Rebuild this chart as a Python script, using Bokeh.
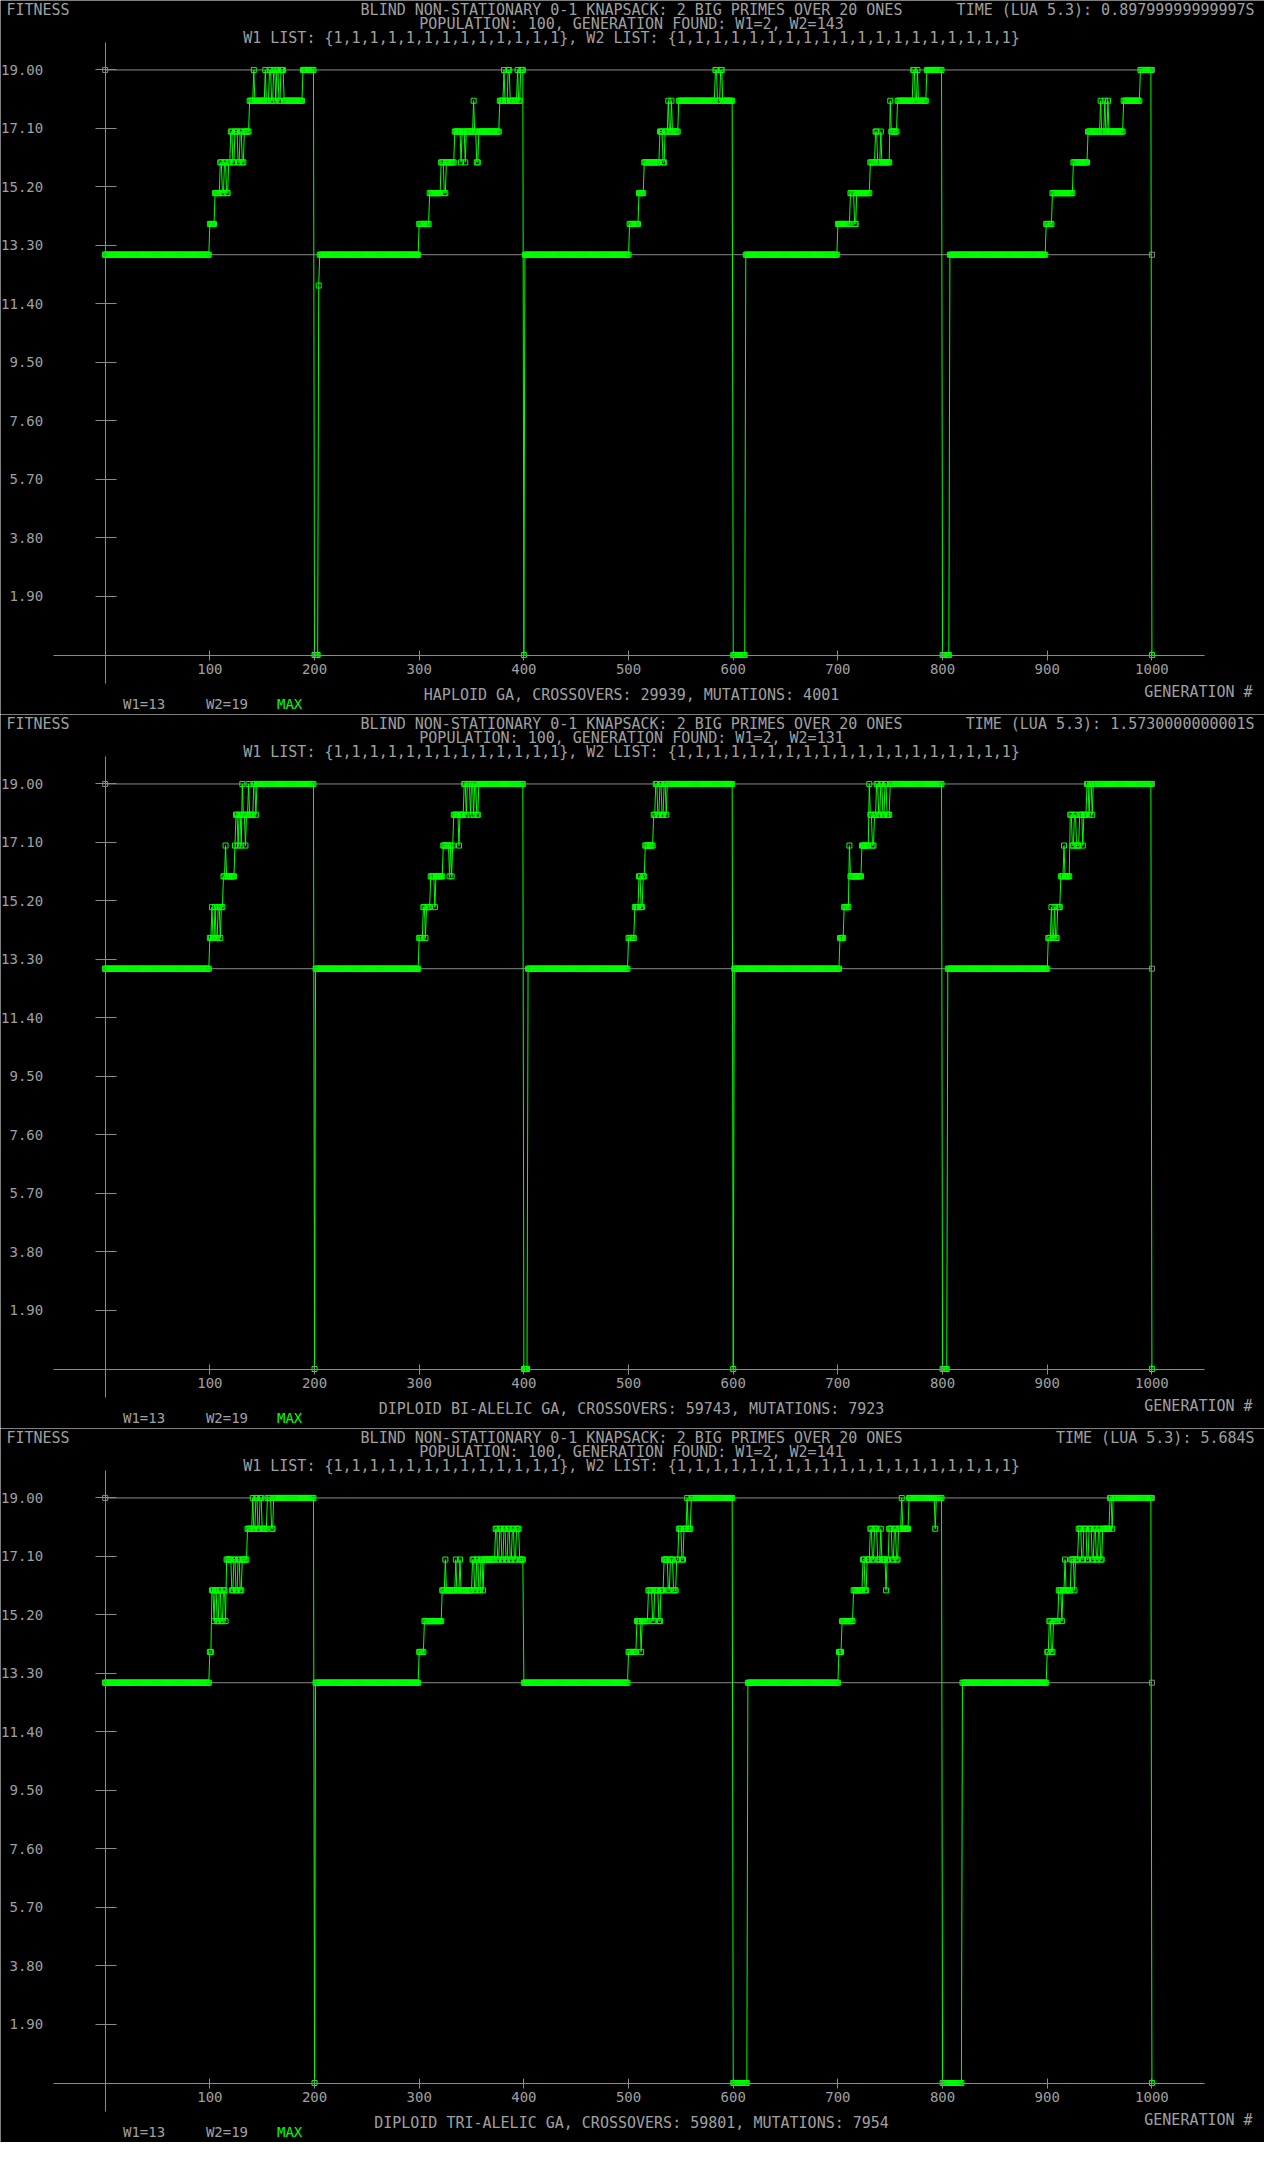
import numpy as np
from bokeh.plotting import figure
from bokeh.models import Range1d, FixedTicker, Label
from bokeh.layouts import column
from bokeh.embed import file_html
from bokeh.resources import INLINE

# ---------------- data ----------------
LAST_GEN = 1000
W1 = 13
W2 = 19
Y_TICKS = [1.9, 3.8, 5.7, 7.6, 9.5, 11.4, 13.3, 15.2, 17.1, 19.0]
Y_TICK_LABELS = ["1.90", "3.80", "5.70", "7.60", "9.50", "11.40", "13.30", "15.20", "17.10", "19.00"]
X_TICKS = [100, 200, 300, 400, 500, 600, 700, 800, 900, 1000]
X_TICK_LABELS = ["100", "200", "300", "400", "500", "600", "700", "800", "900", "1000"]

# MAX fitness, as change points (generation where value starts, value)
P1_GEN = [0, 100, 105, 110, 112, 114, 116, 118, 120, 122, 124, 127, 129, 131, 133, 138, 142, 143, 153, 154,
          157, 159, 161, 163, 164, 166, 168, 171, 189, 200, 204, 205,
          300, 310, 321, 324, 326, 334, 340, 341, 344, 345, 352, 353, 355, 357, 377, 381, 382, 385, 387, 394,
          395, 397, 400, 401,
          501, 510, 515, 530, 533, 535, 538, 539, 541, 542, 548, 583, 585, 588, 590, 600, 612,
          700, 712, 716, 718, 731, 736, 738, 741, 742, 750, 751, 757, 772, 774, 776, 777, 785, 800, 807,
          899, 905, 925, 939, 951, 952, 955, 956, 958, 959, 973, 989, 1000]
P1_VAL = [13, 14, 15, 16, 15, 16, 15, 16, 17, 16, 17, 16, 17, 16, 17, 18, 19, 18, 19, 18,
          19, 18, 19, 18, 19, 18, 19, 18, 19, 0, 12, 13,
          14, 15, 16, 15, 16, 17, 16, 17, 16, 17, 18, 17, 16, 17, 18, 19, 18, 19, 18, 19,
          18, 19, 0, 13,
          14, 15, 16, 17, 16, 17, 18, 17, 18, 17, 18, 19, 18, 19, 18, 0, 13,
          14, 15, 14, 15, 16, 17, 16, 17, 16, 18, 17, 18, 19, 18, 19, 18, 19, 0, 13,
          14, 15, 16, 17, 18, 17, 18, 17, 18, 17, 18, 19, 0]

P2_GEN = [0, 100, 102, 103, 105, 106, 108, 110, 111, 113, 115, 116, 124, 125, 127, 128, 130, 131, 132, 134,
          135, 137, 138, 142, 144, 145, 200, 201,
          300, 304, 306, 307, 311, 315, 316, 323, 329, 330, 331, 332, 333, 338, 339, 343, 345, 346, 349, 350,
          352, 353, 355, 357, 400, 404,
          500, 506, 510, 512, 514, 516, 524, 526, 528, 530, 532, 534, 536, 537, 600, 601,
          702, 706, 711, 712, 723, 730, 731, 733, 735, 737, 739, 741, 743, 745, 747, 750, 800, 805,
          901, 904, 905, 907, 908, 910, 913, 916, 917, 922, 924, 926, 928, 931, 934, 935, 938, 940, 941, 943,
          944, 1000]
P2_VAL = [13, 14, 15, 14, 15, 14, 15, 14, 15, 16, 17, 16, 17, 18, 17, 18, 17, 19, 18, 17,
          18, 19, 18, 19, 18, 19, 0, 13,
          14, 15, 14, 15, 16, 15, 16, 17, 16, 17, 16, 17, 18, 17, 18, 19, 18, 19, 18, 19,
          18, 19, 18, 19, 0, 13,
          14, 15, 16, 15, 16, 17, 18, 19, 18, 19, 18, 19, 18, 19, 0, 13,
          14, 15, 17, 16, 17, 19, 18, 17, 18, 19, 18, 19, 18, 19, 18, 19, 0, 13,
          14, 15, 14, 15, 14, 15, 16, 17, 16, 18, 17, 18, 17, 18, 17, 18, 19, 18, 19, 18,
          19, 0]

P3_GEN = [0, 100, 102, 104, 105, 107, 109, 111, 113, 115, 116, 121, 123, 125, 127, 129, 131, 136, 141, 142,
          144, 146, 148, 150, 155, 159, 161, 200, 201,
          300, 305, 322, 325, 326, 335, 336, 339, 340, 351, 353, 355, 357, 359, 361, 362, 373, 375, 377, 379,
          381, 383, 385, 387, 389, 391, 393, 396, 400,
          500, 508, 512, 513, 519, 523, 525, 529, 531, 534, 538, 540, 543, 546, 548, 551, 553, 556, 557, 560,
          600, 614,
          701, 704, 715, 724, 726, 728, 731, 733, 735, 738, 741, 742, 746, 747, 749, 752, 754, 756, 758, 761,
          762, 768, 793, 794, 800, 819,
          900, 902, 904, 906, 911, 914, 915, 917, 918, 923, 926, 927, 930, 933, 935, 938, 940, 943, 945, 947,
          949, 951, 953, 960, 962, 963, 1000]
P3_VAL = [13, 14, 16, 15, 16, 15, 16, 15, 16, 15, 17, 16, 17, 16, 17, 16, 17, 18, 19, 18,
          19, 18, 19, 18, 19, 18, 19, 0, 13,
          14, 15, 16, 17, 16, 17, 16, 17, 16, 17, 16, 17, 16, 17, 16, 17, 18, 17, 18, 17,
          18, 17, 18, 17, 18, 17, 18, 17, 13,
          14, 15, 14, 15, 16, 15, 16, 15, 16, 17, 16, 17, 16, 17, 18, 17, 18, 19, 18, 19,
          0, 13,
          14, 15, 16, 17, 16, 17, 18, 17, 18, 17, 18, 17, 16, 17, 18, 17, 18, 17, 18, 19,
          18, 19, 18, 19, 0, 13,
          14, 15, 14, 15, 16, 15, 16, 17, 16, 17, 16, 17, 18, 17, 18, 17, 18, 17, 18, 17,
          18, 17, 18, 19, 18, 19, 0]

TITLE = "BLIND NON-STATIONARY 0-1 KNAPSACK: 2 BIG PRIMES OVER 20 ONES"
LIST_TEXT = "W1 LIST: {1,1,1,1,1,1,1,1,1,1,1,1,1}, W2 LIST: {1,1,1,1,1,1,1,1,1,1,1,1,1,1,1,1,1,1,1}"
TIME_TEXT = ["TIME (LUA 5.3): 0.89799999999997S",
             "TIME (LUA 5.3): 1.5730000000001S",
             "TIME (LUA 5.3): 5.684S"]
POP_TEXT = ["POPULATION: 100, GENERATION FOUND: W1=2, W2=143",
            "POPULATION: 100, GENERATION FOUND: W1=2, W2=131",
            "POPULATION: 100, GENERATION FOUND: W1=2, W2=141"]
GA_TEXT = ["HAPLOID GA, CROSSOVERS: 29939, MUTATIONS: 4001",
           "DIPLOID BI-ALELIC GA, CROSSOVERS: 59743, MUTATIONS: 7923",
           "DIPLOID TRI-ALELIC GA, CROSSOVERS: 59801, MUTATIONS: 7954"]
LEGEND_TEXT = ["W1=13", "W2=19", "MAX"]

# ---------------- styling ----------------
BG = "#000000"
GREEN = "#00ff00"
GRAY_LINE = "#8a8a8a"
GRAY_TEXT = "#a0a0a0"
FONT = "DejaVu Sans Mono"
W, H = 1264, 714

# layout helpers: reference-panel pixel -> data coords (panel was 1280x720)
def gx(px):
    return (px - 106.0) / 1.06

def vy(py):
    return (660.0 - py) / 31.05


def expand(change_gen, change_val):
    gens = np.arange(0, LAST_GEN + 1)
    idx = np.searchsorted(np.array(change_gen), gens, side="right") - 1
    return gens, np.array(change_val)[idx]


def label(p, x, y, text, align="left", color=GRAY_TEXT, size="15px"):
    p.add_layout(Label(x=gx(x), y=vy(y), text=text, text_align=align, text_baseline="middle",
                       text_color=color, text_font=FONT, text_font_size=size))


def make_panel(i, change_gen, change_val):
    p = figure(width=W, height=H, output_backend="svg", toolbar_location=None,
               x_range=Range1d(gx(0), gx(1280)), y_range=Range1d(vy(720), vy(0)),
               min_border=0, min_border_left=0, min_border_right=0,
               min_border_top=0, min_border_bottom=0)
    p.background_fill_color = BG
    p.border_fill_color = BG
    p.outline_line_color = None
    p.grid.visible = False

    xa = p.xaxis[0]
    xa.fixed_location = 0
    xa.bounds = (gx(54), gx(1219))
    xa.ticker = FixedTicker(ticks=X_TICKS)
    xa.major_label_overrides = dict(zip(X_TICKS, X_TICK_LABELS))
    xa.axis_line_color = GRAY_LINE
    xa.major_tick_line_color = GRAY_LINE
    xa.minor_tick_line_color = None
    xa.major_tick_in = 5
    xa.major_tick_out = 5
    xa.major_label_standoff = 4
    xa.major_label_text_color = GRAY_TEXT
    xa.major_label_text_font = FONT
    xa.major_label_text_font_size = "14px"

    ya = p.yaxis[0]
    ya.fixed_location = 0
    ya.bounds = (vy(689), vy(42))
    ya.ticker = FixedTicker(ticks=Y_TICKS)
    ya.major_label_overrides = dict(zip(Y_TICKS, Y_TICK_LABELS))
    ya.axis_line_color = GRAY_LINE
    ya.major_tick_line_color = GRAY_LINE
    ya.minor_tick_line_color = None
    ya.major_tick_in = 11
    ya.major_tick_out = 10
    ya.major_label_standoff = 52
    ya.major_label_text_color = GRAY_TEXT
    ya.major_label_text_font = FONT
    ya.major_label_text_font_size = "14px"

    # W1 / W2 reference lines
    for w in (W1, W2):
        p.line([0, LAST_GEN], [w, w], line_color=GRAY_LINE, line_width=1)
        p.scatter([0, LAST_GEN], [w, w], marker="square", size=5, fill_color=None,
                  line_color=GRAY_LINE, line_width=1)

    gens, vals = expand(change_gen, change_val)
    p.line(gens, vals, line_color=GREEN, line_width=1)
    p.scatter(gens, vals, marker="square", size=5, fill_color=None, line_color=GREEN, line_width=1)

    # texts
    label(p, 6, 10, "FITNESS")
    label(p, 639, 10, TITLE, align="center")
    label(p, 1270, 10, TIME_TEXT[i], align="right")
    label(p, 639, 24, POP_TEXT[i], align="center")
    label(p, 639, 38, LIST_TEXT, align="center")
    label(p, 1268, 697, "GENERATION #", align="right")
    label(p, 639, 700, GA_TEXT[i], align="center")
    label(p, 124, 709, LEGEND_TEXT[0], size="14px")
    label(p, 208, 709, LEGEND_TEXT[1], size="14px")
    label(p, 280, 709, LEGEND_TEXT[2], color=GREEN, size="14px")
    return p


panels = [make_panel(0, P1_GEN, P1_VAL),
          make_panel(1, P2_GEN, P2_VAL),
          make_panel(2, P3_GEN, P3_VAL)]

layout = column(*panels, spacing=0)
open("out.html", "w").write(file_html(layout, INLINE))
